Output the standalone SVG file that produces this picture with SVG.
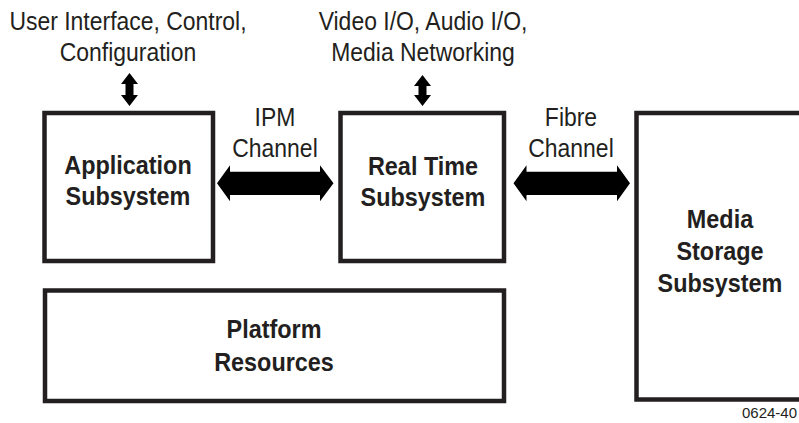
<svg xmlns="http://www.w3.org/2000/svg" width="799" height="423" viewBox="0 0 799 423">
<style>
.box{fill:#fff;stroke:#231f20;stroke-width:4.5}
.lbl{font-family:"Liberation Sans",Arial,sans-serif;font-size:26px;font-weight:bold;fill:#231f20;text-anchor:middle}
.txt{font-family:"Liberation Sans",Arial,sans-serif;font-size:25.5px;fill:#231f20;text-anchor:middle}
.arr{fill:#000}
</style>
<rect width="799" height="423" fill="#fff"/>
<g id="app">
<rect class="box" x="44.5" y="113" width="168.5" height="148"/>
<g transform="translate(128 0) scale(0.9 1)">
<text class="lbl" x="0" y="174">Application</text>
<text class="lbl" x="0" y="205">Subsystem</text>
</g>
</g>
<g id="realtime">
<rect class="box" x="340.5" y="113" width="163.5" height="148"/>
<g transform="translate(423 0) scale(0.9 1)">
<text class="lbl" x="0" y="175">Real Time</text>
<text class="lbl" x="0" y="206">Subsystem</text>
</g>
</g>
<g id="media">
<rect class="box" x="636.5" y="113" width="200" height="286.5"/>
<g transform="translate(720 0) scale(0.9 1)">
<text class="lbl" x="0" y="228">Media</text>
<text class="lbl" x="0" y="260">Storage</text>
<text class="lbl" x="0" y="292">Subsystem</text>
</g>
</g>
<g id="platform">
<rect class="box" x="45" y="290.5" width="459" height="110.5"/>
<g transform="translate(274 0) scale(0.9 1)">
<text class="lbl" x="0" y="338">Platform</text>
<text class="lbl" x="0" y="371">Resources</text>
</g>
</g>
<g id="ui-label" transform="translate(128 0) scale(0.9 1)">
<text class="txt" x="0" y="30">User Interface, Control,</text>
<text class="txt" x="0" y="61">Configuration</text>
</g>
<g id="io-label" transform="translate(423 0) scale(0.9 1)">
<text class="txt" x="0" y="30">Video I/O, Audio I/O,</text>
<text class="txt" x="0" y="61">Media Networking</text>
</g>
<g id="connectors">
<path class="arr" d="M129.5 73 L138 84 L133.5 84 L133.5 95 L138 95 L129.5 106 L121 95 L125.5 95 L125.5 84 L121 84 Z"/>
<path class="arr" d="M422.5 75 L431 86 L426.5 86 L426.5 95 L431 95 L422.5 106 L414 95 L418.5 95 L418.5 86 L414 86 Z"/>
<path class="arr" d="M217 183.3 L230 165.3 L230 171.7 L320 171.7 L320 165.3 L333.5 183.3 L320 201.3 L320 195 L230 195 L230 201.3 Z"/>
<path class="arr" d="M513.5 183.3 L526.5 165.3 L526.5 171.7 L617 171.7 L617 165.3 L630 183.3 L617 201.3 L617 195 L526.5 195 L526.5 201.3 Z"/>
<g transform="translate(275 0) scale(0.9 1)">
<text class="txt" x="0" y="126">IPM</text>
<text class="txt" x="0" y="157">Channel</text>
</g>
<g transform="translate(571 0) scale(0.9 1)">
<text class="txt" x="0" y="126">Fibre</text>
<text class="txt" x="0" y="157">Channel</text>
</g>
</g>
<text x="742" y="418" font-family="'Liberation Sans',Arial,sans-serif" font-size="15" fill="#231f20">0624-40</text>
</svg>
